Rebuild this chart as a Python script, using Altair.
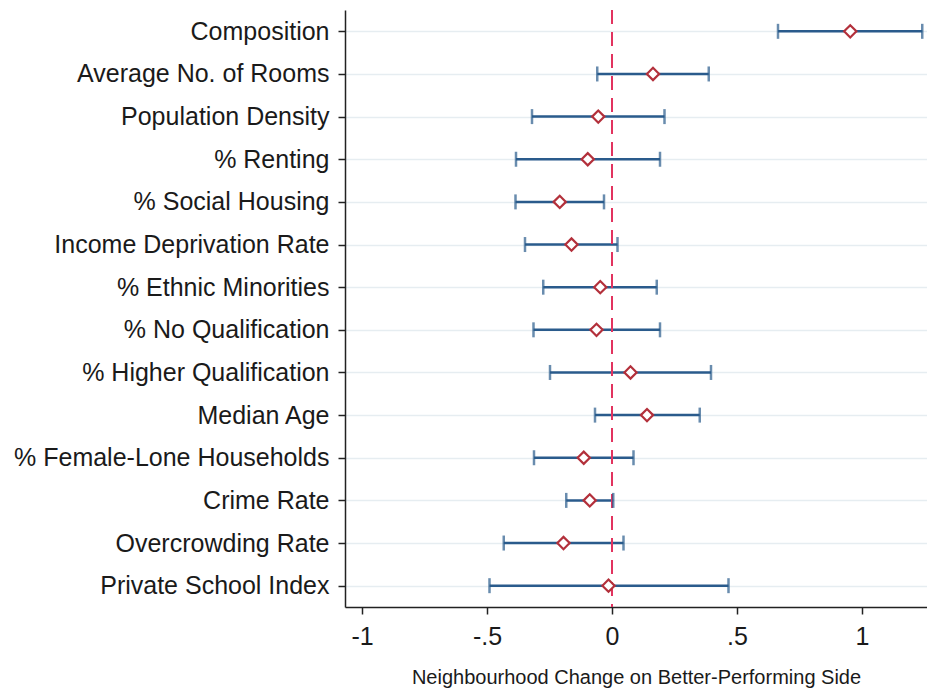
import altair as alt
import pandas as pd

# Estimates with 95% confidence intervals, top to bottom
variables = [
    "Composition",
    "Average No. of Rooms",
    "Population Density",
    "% Renting",
    "% Social Housing",
    "Income Deprivation Rate",
    "% Ethnic Minorities",
    "% No Qualification",
    "% Higher Qualification",
    "Median Age",
    "% Female-Lone Households",
    "Crime Rate",
    "Overcrowding Rate",
    "Private School Index",
]
estimates = [0.953, 0.164, -0.055, -0.097, -0.209, -0.162, -0.047, -0.062, 0.074, 0.140, -0.113, -0.089, -0.194, -0.014]
ci_low = [0.664, -0.059, -0.320, -0.384, -0.386, -0.348, -0.275, -0.314, -0.248, -0.068, -0.312, -0.183, -0.433, -0.490]
ci_high = [1.241, 0.387, 0.210, 0.192, -0.032, 0.022, 0.179, 0.192, 0.396, 0.351, 0.086, 0.005, 0.046, 0.466]

tick_values = [-1, -0.5, 0, 0.5, 1]
tick_labels = ["-1", "-.5", "0", ".5", "1"]

df = pd.DataFrame({"var": variables, "est": estimates, "lo": ci_low, "hi": ci_high})
zero = pd.DataFrame({"x": [0]})

FONT = "Liberation Sans"
BLUE = "#2a5b8c"
RED = "#b3303b"
PINK = "#e2335f"

label_map = "{" + ",".join(f"'{v}':'{l}'" for v, l in zip(tick_values, tick_labels)) + "}"

x_scale = alt.Scale(domain=[-1.068, 1.26], nice=False, zero=False)
y_enc = alt.Y(
    "var:N",
    sort=variables,
    scale=alt.Scale(type="point", padding=0.5),
    axis=alt.Axis(
        title=None,
        labelFontSize=25,
        labelFont=FONT,
        labelColor="#1a1a1a",
        labelPadding=9,
        tickSize=7,
        tickColor="#222",
        tickWidth=1.5,
        domainColor="#222",
        domainWidth=1.5,
        grid=True,
        gridColor="#e6edf1",
        gridWidth=1.5,
        labelLimit=400,
    ),
)
x_axis = alt.Axis(
    values=tick_values,
    labelExpr=label_map + "[''+datum.value]",
    title="Neighbourhood Change on Better-Performing Side",
    titleFont=FONT,
    titleFontSize=20,
    titleFontWeight="normal",
    titleColor="#1a1a1a",
    titlePadding=18,
    labelFont=FONT,
    labelFontSize=25,
    labelColor="#1a1a1a",
    labelPadding=10,
    tickSize=7,
    tickColor="#222",
    tickWidth=1.5,
    domainColor="#222",
    domainWidth=1.5,
    grid=False,
)

base = alt.Chart(df)

bars = base.mark_rule(color=BLUE, strokeWidth=2.5).encode(
    x=alt.X("lo:Q", scale=x_scale, axis=x_axis),
    x2="hi:Q",
    y=y_enc,
)
cap_lo = base.mark_tick(color=BLUE, size=15, thickness=2.5, orient="vertical").encode(
    x=alt.X("lo:Q", scale=x_scale), y=alt.Y("var:N", sort=variables)
)
cap_hi = base.mark_tick(color=BLUE, size=15, thickness=2.5, orient="vertical").encode(
    x=alt.X("hi:Q", scale=x_scale), y=alt.Y("var:N", sort=variables)
)
ref = alt.Chart(zero).mark_rule(color=PINK, strokeWidth=2, strokeDash=[14, 8]).encode(
    x=alt.X("x:Q", scale=x_scale)
)
points = base.mark_point(
    shape="diamond", filled=True, fill="white", stroke=RED, strokeWidth=2.2, size=150, opacity=1
).encode(x=alt.X("est:Q", scale=x_scale), y=alt.Y("var:N", sort=variables))

chart = (
    alt.layer(bars, ref, cap_lo, cap_hi, points)
    .properties(
        width=582,
        height=597,
        padding={"left": 345, "top": 10, "right": 0, "bottom": 84},
        autosize=alt.AutoSizeParams(type="none"),
        background="white",
    )
    .configure_view(stroke=None)
)

chart.save("out.html", embed_options={"renderer": "svg", "actions": False})
